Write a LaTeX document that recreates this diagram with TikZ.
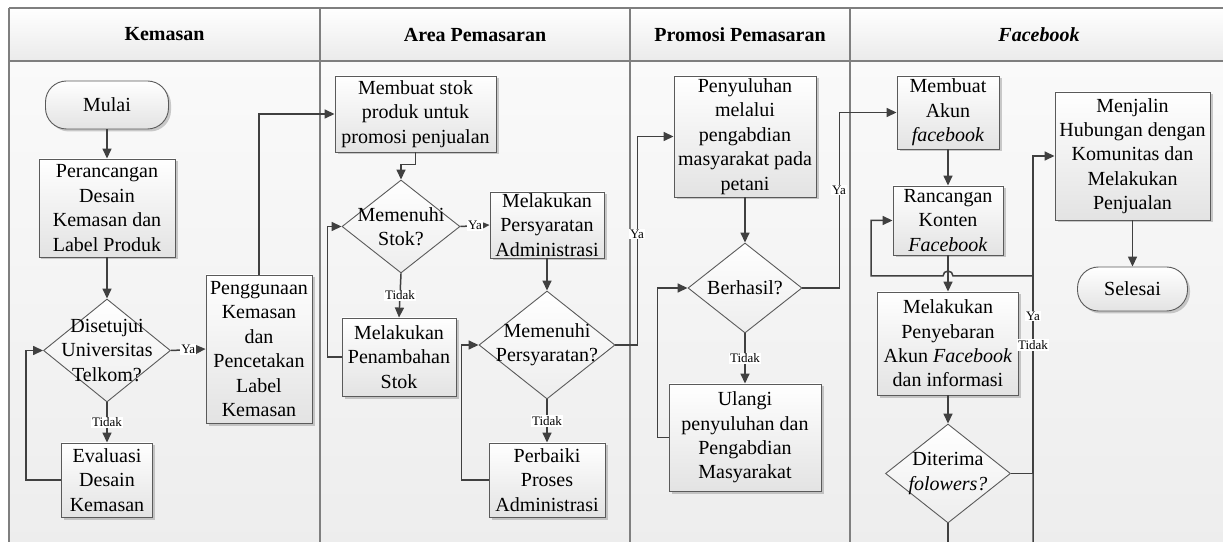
\documentclass[tikz,border=0pt]{standalone}
\usepackage{fontspec}
\setmainfont{Liberation Serif}
\usetikzlibrary{arrows.meta,shapes.geometric,shadows,calc}
\definecolor{linec}{HTML}{404040}
\definecolor{bordc}{HTML}{5A5A5A}
\definecolor{lanec}{HTML}{7F7F7F}
\newcommand\nodefnt{\fontsize{20bp}{24.4bp}\selectfont}
\newcommand\lblfnt{\fontsize{13bp}{15bp}\selectfont}
\newcommand\headfnt{\fontsize{20bp}{24bp}\selectfont\bfseries}
\tikzset{
  proc/.style={rectangle, draw=bordc, line width=0.9bp, top color=white, bottom color=black!11,
    drop shadow={shadow xshift=2.5bp, shadow yshift=-2.5bp, fill=black!50, opacity=0.4},
    inner sep=0pt, align=center, font=\nodefnt},
  term/.style={proc, rounded corners=21bp},
  dec/.style={diamond, draw=bordc, line width=0.9bp, top color=white, bottom color=black!7, inner sep=0pt},
  txt/.style={align=center, font=\nodefnt, inner sep=0pt},
  conn/.style={draw=linec, line width=1.5bp, -{Triangle[length=10bp,width=9bp]}},
  plain/.style={draw=linec, line width=1.5bp},
  lbl/.style={fill=white, inner sep=1bp, font=\lblfnt, text=black},
  head/.style={font=\headfnt, inner sep=0pt},
}
\begin{document}
\begin{tikzpicture}[x=1bp, y=-1bp]
\useasboundingbox (0,0) rectangle (1223,542);
\clip (0,0) rectangle (1223,542);
\fill[white] (0,0) rectangle (1223,542);
% lanes
\shade[top color=black!2, bottom color=black!7] (9,61) rectangle (1228,545);
\shade[top color=white, bottom color=black!8] (9,8) rectangle (1228,61);
\draw[lanec, line width=1.3bp] (9,8) -- (1228,8) (9,61) -- (1228,61)
  (9,8) -- (9,545) (320,8) -- (320,545) (630,8) -- (630,545) (850,8) -- (850,545);
\node[head] (h1) at (164.5,34.5) {Kemasan};
\node[head] (h2) at (475,34.5) {Area Pemasaran};
\node[head] (h3) at (740,34.5) {Promosi Pemasaran};
\node[head] (h4) at (1039,34.5) {\textit{Facebook}};

% Kemasan
\node[term, minimum width=123bp, minimum height=48bp] (mulai) at (107,105) {Mulai};
\node[proc, minimum width=136bp, minimum height=98bp] (per) at (107,208) {Perancangan\\Desain\\Kemasan dan\\Label Produk};
\node[dec, minimum width=127bp, minimum height=103bp] (d1) at (107,350.5) {};
\node[txt] at (d1) {Disetujui\\Universitas\\Telkom?};
\node[proc, minimum width=106bp, minimum height=148bp] (peng) at (259,349) {Penggunaan\\Kemasan\\dan\\Pencetakan\\Label\\Kemasan};
\node[proc, minimum width=91bp, minimum height=74bp] (eval) at (107,480) {Evaluasi\\Desain\\Kemasan};

% Area Pemasaran
\node[proc, minimum width=161bp, minimum height=76bp] (ms) at (415.5,114) {Membuat stok\\produk untuk\\promosi penjualan};
\node[dec, minimum width=118bp, minimum height=93bp] (d2) at (401,226.5) {};
\node[txt] at (d2) {Memenuhi\\Stok?};
\node[proc, minimum width=114bp, minimum height=66bp] (mp) at (547,225) {Melakukan\\Persyaratan\\Administrasi};
\node[proc, minimum width=114bp, minimum height=78bp] (pen) at (399,357) {Melakukan\\Penambahan\\Stok};
\node[dec, minimum width=136bp, minimum height=108bp] (d3) at (547,345) {};
\node[txt] at (d3) {Memenuhi\\Persyaratan?};
\node[proc, minimum width=116bp, minimum height=74bp] (perb) at (547,480) {Perbaiki\\Proses\\Administrasi};

% Promosi Pemasaran
\node[proc, minimum width=142bp, minimum height=121bp] (peny) at (745,136.5) {Penyuluhan\\melalui\\pengabdian\\masyarakat pada\\petani};
\node[dec, minimum width=114bp, minimum height=90bp] (d4) at (745,288) {};
\node[txt] at (d4) {Berhasil?};
\node[proc, minimum width=152bp, minimum height=107bp] (ul) at (745,437.5) {Ulangi\\penyuluhan dan\\Pengabdian\\Masyarakat};

% Facebook
\node[proc, minimum width=102bp, minimum height=73bp] (akun) at (948,112.5) {Membuat\\Akun\\\textit{facebook}};
\node[proc, minimum width=110bp, minimum height=69bp] (ranc) at (948,220.5) {Rancangan\\Konten\\\textit{Facebook}};
\node[proc, minimum width=141bp, minimum height=103bp] (pny) at (948,343.5) {Melakukan\\Penyebaran\\Akun \textit{Facebook}\\dan informasi};
\node[dec, minimum width=125bp, minimum height=99bp] (d5) at (948,473.5) {};
\node[txt] at (d5) {Diterima\\\textit{folowers?}};
\node[proc, minimum width=155bp, minimum height=128bp] (menj) at (1132.5,156) {Menjalin\\Hubungan dengan\\Komunitas dan\\Melakukan\\Penjualan};
\node[term, minimum width=110bp, minimum height=44bp] (sel) at (1132.5,289) {Selesai};

\coordinate (e1) at (948,545);
\coordinate (e2) at (1033,545);

% connectors Kemasan
\draw[conn] (mulai.south) -- (per.north);
\draw[conn] (per.south) -- (d1.north);
\draw[conn] (d1.east) -- node[lbl] {Ya} (peng.west);
\draw[conn] (d1.south) -- node[lbl] {Tidak} (eval.north);
\draw[conn] (eval.west) -- ++(-35,0) |- (d1.west);
\draw[conn] (peng.north) |- (ms.west);

% connectors Area
\draw[conn] (ms.south) -- ++(0,12) -| (d2.north);
\draw[conn] (d2.east) -- node[lbl] {Ya} (mp.west);
\draw[conn] (d2.south) -- node[lbl] {Tidak} (pen.north);
\draw[conn] (pen.west) -- ++(-14,0) |- (d2.west);
\draw[conn] (mp.south) -- (d3.north);
\draw[conn] (d3.south) -- node[lbl] {Tidak} (perb.north);
\draw[conn] (perb.west) -- ++(-27,0) |- (d3.west);
\draw[conn] (d3.east) -- ++(22,0) |- (peny.west);
\node[lbl] at (637,234) {Ya};

% connectors Promosi
\draw[conn] (peny.south) -- (d4.north);
\draw[conn] (d4.south) -- node[lbl] {Tidak} (ul.north);
\draw[conn] (ul.west) -- ++(-11,0) |- (d4.west);
\draw[conn] (d4.east) -- ++(37,0) |- (akun.west);
\node[lbl] at (839,190) {Ya};

% connectors Facebook
\draw[conn] (akun.south) -- (ranc.north);
\draw[conn] (ranc.south) -- (pny.north);
\draw[conn] (pny.south) -- (d5.north);
\draw[plain] (d5.south) -- (e1);
\draw[conn] (e2) -- (1033,276) -- (953,276) arc[start angle=0, end angle=180, radius=5bp] -- (871,276) |- (ranc.west);
\draw[conn] (d5.east) -- (1033,473.5) |- (menj.west);
\draw[conn] (menj.south) -- (sel.north);
\node[lbl] at (1033,316) {Ya};
\node[lbl] at (1033,345) {Tidak};
\end{tikzpicture}
\end{document}
